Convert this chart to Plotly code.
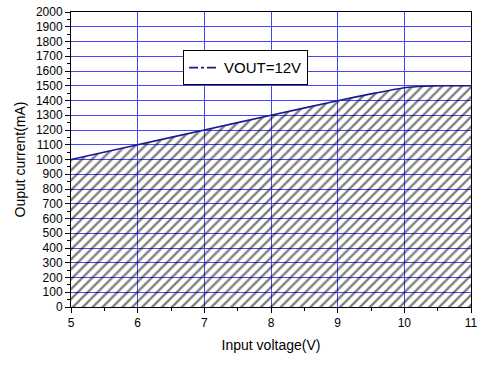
import plotly.graph_objects as go

# Data
vin = [5, 6, 7, 8, 9, 9.5, 10, 10.3, 10.6, 11]
iout = [1000, 1100, 1200, 1300, 1398, 1445, 1487, 1497, 1500, 1500]
series_name = "VOUT=12V"
x_ticks = [5, 6, 7, 8, 9, 10, 11]
y_ticks = list(range(0, 2001, 100))

fig = go.Figure()

# hatched area under the curve
fig.add_trace(go.Scatter(
    x=vin, y=iout, mode="lines", fill="tozeroy",
    line=dict(color="#1a1a8c", width=1.6, shape="spline", smoothing=0.6),
    fillcolor="rgba(0,0,0,0)",
    fillpattern=dict(shape="/", fgcolor="black", bgcolor="rgba(0,0,0,0)", size=7, solidity=0.33),
    showlegend=False, hoverinfo="skip",
))
# legend-only entry (dash-dot)
fig.add_trace(go.Scatter(
    x=[None], y=[None], mode="lines", name=series_name,
    line=dict(color="#1a1a8c", width=1.6, dash="dashdot"),
))

axis_common = dict(
    showline=True, linecolor="black", linewidth=1, mirror=True,
    ticks="outside", tickcolor="black", ticklen=5, tickwidth=1,
    showgrid=True, gridcolor="#4545ff", gridwidth=1.25,
    zeroline=False, automargin=False, ticklabeloverflow="allow",
    tickfont=dict(family="Liberation Sans, Arial", size=12, color="black"),
)

fig.update_xaxes(
    range=[5, 11], tickvals=x_ticks,
    minor=dict(ticks="outside", ticklen=3, dtick=0.5, tickcolor="black", showgrid=False),
    title=dict(text="Input voltage(V)", font=dict(family="Liberation Sans, Arial", size=14, color="black"), standoff=10),
    **axis_common,
)
fig.update_yaxes(
    range=[0, 2000], tickvals=y_ticks,
    minor=dict(ticks="outside", ticklen=3, dtick=50, tickcolor="black", showgrid=False),
    title=dict(text="Ouput current(mA)", font=dict(family="Liberation Sans, Arial", size=14, color="black"), standoff=6),
    **axis_common,
)

fig.update_layout(
    width=488, height=374,
    margin=dict(l=71, r=17, t=12, b=67, autoexpand=False),
    paper_bgcolor="white", plot_bgcolor="white",
    legend=dict(
        x=0.28, y=0.87, xanchor="left", yanchor="top",
        bgcolor="white", bordercolor="black", borderwidth=1,
        font=dict(family="Liberation Sans, Arial", size=15, color="black"),
        tracegroupgap=0,
    ),
)

# remove the default page margin so the figure sits at the window's corner
fig.write_html("out.html", config={"displayModeBar": False},
               post_script="document.body.style.margin='0';")
